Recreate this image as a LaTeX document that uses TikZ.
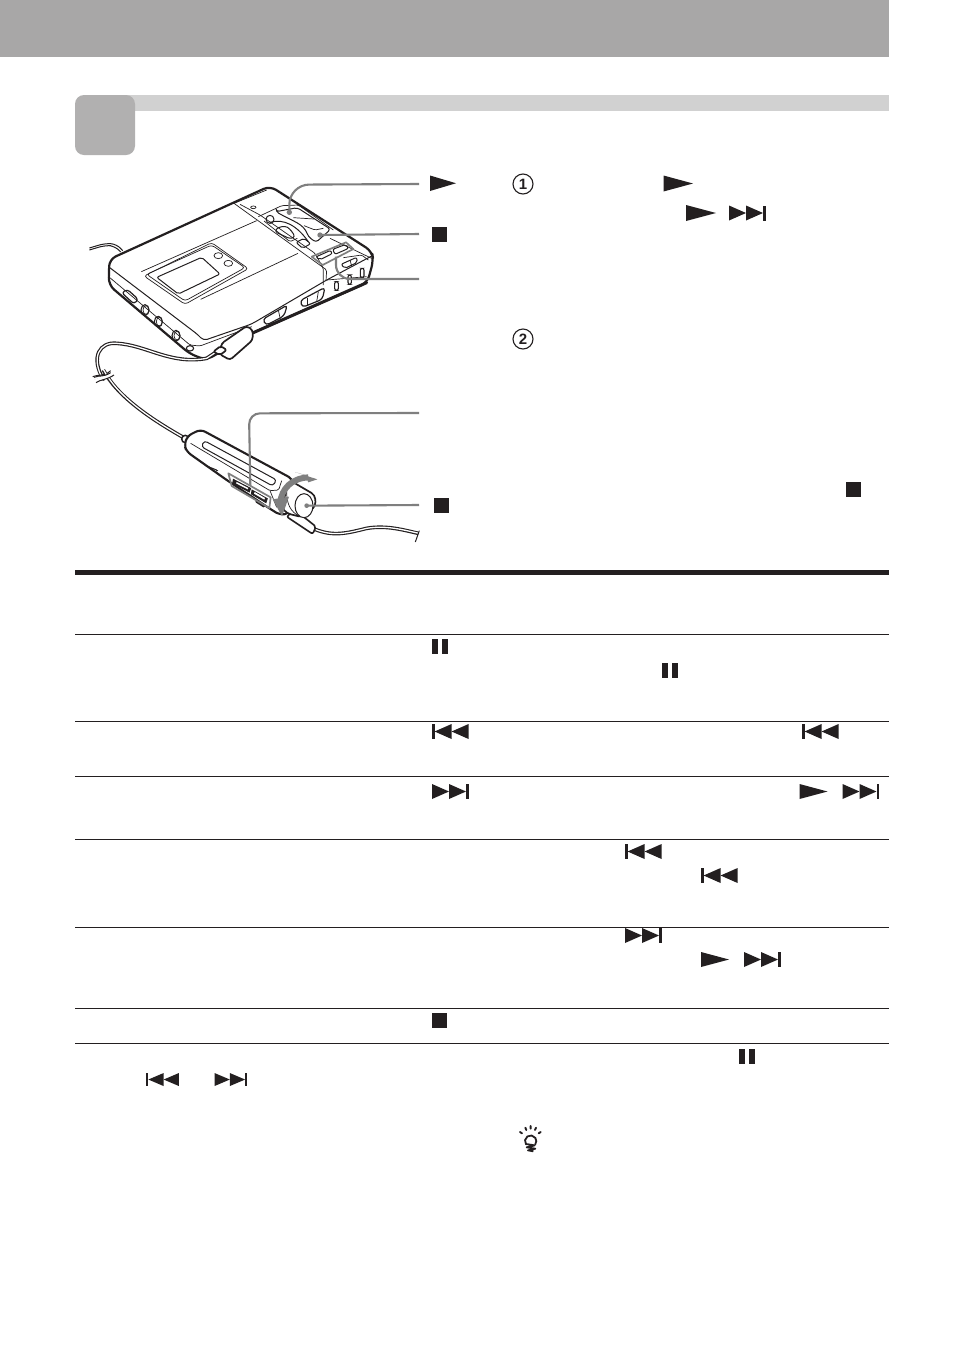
\documentclass[tikz,border=0pt]{standalone}
\usepackage{fontspec}
\setmainfont{Liberation Sans}
\definecolor{ink}{HTML}{231F20}
\definecolor{bandgray}{HTML}{A8A7A7}
\definecolor{stripgray}{HTML}{D1D1D1}
\definecolor{squaregray}{HTML}{B1B0B0}
\definecolor{leadergray}{HTML}{7F7F7F}
\newcommand\iplay[4]{\fill[ink] (#1,#2) -- ++(#3,#4/2) -- ++(-#3,#4/2) -- cycle;}
\newcommand\inext[2]{\fill[ink] (#1,#2) -- ++(17,7.5) -- ++(-17,7.5) -- cycle;
  \fill[ink] (#1+17,#2) -- ++(17,7.5) -- ++(-17,7.5) -- cycle;
  \fill[ink] (#1+34,#2) rectangle ++(2.6,15);}
\newcommand\iprev[2]{\fill[ink] (#1,#2) rectangle ++(2.6,15);
  \fill[ink] (#1+19.6,#2) -- ++(-17,7.5) -- ++(17,7.5) -- cycle;
  \fill[ink] (#1+36.6,#2) -- ++(-17,7.5) -- ++(17,7.5) -- cycle;}
\newcommand\ipause[2]{\fill[ink] (#1,#2) rectangle ++(6,15); \fill[ink] (#1+10,#2) rectangle ++(6,15);}
\newcommand\istop[2]{\fill[ink] (#1,#2) rectangle ++(14.5,14.5);}
\tikzset{
  rowline/.style={draw=ink,line width=1pt},
  leader/.style={draw=leadergray,line width=2.1pt},
  leaderbox/.style={draw=leadergray,line width=1.7pt,line join=round},
  outline/.style={draw=ink,line width=1.5pt,line join=round,rounded corners=3pt},
  thin part/.style={draw=ink,line width=.7pt,line join=round,rounded corners=1.5pt},
  mid part/.style={draw=ink,line width=1pt,line join=round,rounded corners=2pt},
  part/.style={draw=ink,line width=1pt,fill=white,line join=round,rounded corners=3pt},
  numcircle/.style={circle,draw=ink,line width=1.1pt,minimum size=20pt,inner sep=0pt,font=\bfseries\fontsize{15}{15}\selectfont,text=ink},
}
\begin{document}
\begin{tikzpicture}[x=1pt,y=-1pt]
\useasboundingbox (0,0) rectangle (954,1358);
\fill[white] (0,0) rectangle (954,1358);
% header bands
\fill[bandgray] (0,0) rectangle (889,57);
\fill[stripgray] (120,95) rectangle (889,110.5);
\fill[squaregray,rounded corners=9pt] (75,95) rectangle (135,155);
% table rules
\coordinate (ruleL) at (75,572.5); \coordinate (ruleR) at (889,572.5);
\draw[draw=ink,line width=4.5pt] (ruleL) -- (ruleR);
\foreach \yy in {634.5,721.5,776.5,839.5,927.5,1008.5,1043.5}
  \draw[rowline] (75,\yy) -- (889,\yy);

% player (zoom-1 coordinates)
\begin{scope}[shift={(70,170)},x=0.33333pt,y=-0.33333pt]
  % headphone lead at back
  \draw[draw=ink,line width=1pt,rounded corners=6pt] (58,240) -- (105,226) -- (135,228) -- (152,246);
  \draw[draw=ink,line width=1pt,rounded corners=6pt] (58,234) -- (105,220) -- (140,222) -- (158,242);
  % body
  \draw[outline,line width=2.2pt,fill=white,rounded corners=7pt] (118,268) -- (600,48) -- (906,244) -- (910,272) -- (892,338) -- (545,490) -- (410,570) -- (360,552) -- (116,345) -- cycle;
  \draw[draw=ink,line width=3pt,line cap=round] (550,488) -- (890,338);
  % lower edge of top surface
  \draw[mid part,rounded corners=4pt] (118,292) -- (385,495) -- (400,512) -- (545,462) -- (770,330) -- (905,258);
  \draw[thin part] (116,320) -- (360,525) -- (390,528) -- (545,470);
  \draw[thin part] (770,330) -- (890,320);
  % lid seams
  \draw[thin part] (492,100) -- (590,60);
  \draw[thin part] (492,100) -- (770,300) -- (768,332);
  \draw[thin part] (560,152) -- (214,305);
  \draw[thin part] (684,250) -- (392,388);
  % display
  \draw[thin part,rounded corners=3pt] (230,313) -- (425,225) -- (525,293) -- (345,393) -- cycle;
  \draw[thin part,rounded corners=3pt] (222,318) -- (425,218) -- (535,296) -- (345,403) -- cycle;
  \draw[mid part] (260,322) -- (395,262) -- (450,312) -- (325,372) -- cycle;
  \draw[thin part] (445,257) ellipse [x radius=13,y radius=9];
  \draw[thin part] (475,280) ellipse [x radius=13,y radius=9];
  % right-hand edge
  \draw[thin part] (780,205) -- (905,265);
  % side sliders
  \draw[mid part,line width=1.2pt,rounded corners=3.5pt] (578,448) -- (652,405) -- (642,438) -- (588,466) -- cycle;
  \draw[thin part] (625,420) -- (632,452);
  \draw[mid part,line width=1.2pt,rounded corners=3.5pt] (690,392) -- (765,352) -- (757,388) -- (697,412) -- cycle;
  \draw[thin part] (712,385) -- (712,405); \draw[thin part] (745,365) -- (740,395);
  % left side controls
  \draw[mid part,line width=1.2pt,rounded corners=3pt] (155,368) -- (172,358) -- (205,388) -- (192,402) -- cycle;
  \foreach \cx/\cy in {225/420,265/455,318/497}{
    \draw[thin part,line width=1.1pt] (\cx,\cy) ellipse [x radius=12,y radius=16];
    \draw[thin part] (\cx+3,\cy) ellipse [x radius=9,y radius=13];}
  \draw[thin part,line width=1.1pt] (360,535) ellipse [x radius=11,y radius=8];
  % lead (double line)
  \draw[draw=ink,line width=3.6pt,line cap=round] (100,628) .. controls (60,560) and (90,515) .. (140,520) .. controls (230,525) and (300,585) .. (410,565) -- (455,535);
  \draw[draw=white,line width=1.3pt] (100,630) .. controls (60,560) and (90,515) .. (140,520) .. controls (230,525) and (300,585) .. (410,565) -- (455,535);
  % connector
  \draw[part,line width=1.7pt] (455,520) -- (530,468) -- (548,480) -- (548,510) -- (480,570) -- (448,552) -- cycle;
  \draw[part,line width=1.7pt,rounded corners=2pt] (430,545) -- (452,528) -- (470,540) -- (450,555) -- cycle;
  % break in lead
  \draw[draw=white,line width=3pt] (70,630) -- (130,612);
  \draw[draw=ink,line width=1pt] (68,620) .. controls (85,612) and (100,622) .. (122,602);
  \draw[draw=ink,line width=1pt] (72,632) .. controls (88,622) and (105,632) .. (128,612);
\end{scope}

% player controls (detail coordinates)
\begin{scope}[shift={(240,185)},x=0.33333pt,y=-0.33333pt]
  \draw[thin part] (0,58) -- (60,90) -- (225,205) -- (250,250) -- (250,300);
  \fill[white,draw=ink,line width=.7pt] (40,67) ellipse [x radius=8,y radius=4];
  \draw[mid part] (90,103) circle [radius=12];
  % control panel
  \draw[thin part] (55,95) -- (125,62) -- (175,60) -- (280,135);
  \draw[mid part,rounded corners=3pt] (108,80) -- (172,68) -- (272,133) -- (228,172) -- (205,155) .. controls (190,115) and (160,110) .. cycle;
  \draw[thin part] (160,98) -- (222,102);
  \draw[thin part] (192,122) -- (225,135) -- (250,130);
  \draw[mid part] (90,112) .. controls (130,100) and (170,120) .. (205,170);
  \draw[mid part,rounded corners=3pt] (104,140) .. controls (115,125) and (135,122) .. (150,132) -- (166,155) -- (152,162) -- cycle;
  \draw[thin part] (72,108) -- (150,170) -- (172,160);
  \draw[mid part] (168,172) -- (192,160) -- (212,176) -- (188,190) -- cycle;
  % play and forward buttons
  \draw[mid part] (227,216) -- (272,196) -- (277,206) -- (240,224) -- cycle;
  \draw[mid part] (278,193) -- (318,178) -- (326,190) -- (285,208) -- cycle;
  \draw[leaderbox] (215,215) -- (318,172) -- (340,192) -- (248,240) -- cycle;
  % side switch
  \draw[mid part] (303,238) -- (350,217) -- (352,232) -- (315,250) -- cycle;
  \draw[thin part] (330,225) -- (335,243);
  \draw[thin part] (310,218) -- (365,210) -- (385,225);
  % slots
  \draw[draw=ink,line width=1.1pt,rounded corners=2pt] (284,290) rectangle (295,316);
  \draw[draw=ink,line width=1.1pt,rounded corners=2pt] (324,270) rectangle (334,298);
  \draw[draw=ink,line width=1.1pt,rounded corners=2pt] (361,250) rectangle (372,278);
  % leader end points
  \coordinate (targetPlay) at (148,82);
  \coordinate (targetStop) at (240,150);
  \coordinate (targetBox) at (288,215);
  \coordinate (elbowPlay) at (148,-1);
  \coordinate (elbowBox) at (288,282);
  \fill[leadergray] (targetPlay) circle [radius=8];
  \fill[leadergray] (targetStop) circle [radius=8];
\end{scope}

% remote lead (zoom-2 coordinates)
\begin{scope}[shift={(70,370)},x=0.33333pt,y=-0.33333pt]
  \draw[draw=ink,line width=3.6pt] (100,0) .. controls (140,75) and (230,140) .. (345,205);
  \draw[draw=white,line width=1.3pt] (100,-2) .. controls (140,75) and (230,140) .. (345,205);
  \draw[draw=white,line width=3pt] (70,35) -- (130,12);
  \draw[draw=ink,line width=1pt] (72,22) .. controls (90,15) and (100,22) .. (122,8);
  \draw[draw=ink,line width=1pt] (78,38) .. controls (92,28) and (110,30) .. (132,15);
  \draw[draw=ink,line width=3.6pt] (700,445) -- (735,478) .. controls (790,500) and (830,490) .. (890,475) .. controls (950,465) and (1000,480) .. (1045,490);
  \draw[draw=white,line width=1.3pt] (700,445) -- (735,478) .. controls (790,500) and (830,490) .. (890,475) .. controls (950,465) and (1000,480) .. (1047,490);
  \draw[draw=ink,line width=1pt] (1048,482) -- (1036,516);
  \coordinate (elbowBoxR) at (537,130);
\end{scope}

% remote body (detail coordinates)
\begin{scope}[shift={(180,420)},x=0.33333pt,y=-0.33333pt]
  \fill[white,draw=ink,line width=1.5pt] (16,57) circle [radius=11];
  % plug
  \draw[part,line width=1.6pt,rounded corners=2pt] (320,290) -- (345,270) -- (408,320) -- (398,342) -- cycle;
  % body
  \draw[part,line width=2.1pt,rounded corners=5pt] (13,75) -- (22,48) -- (62,28) -- (340,178) -- (330,280) -- (300,285) -- (268,265) -- (140,180) -- (20,95) -- cycle;
  \draw[mid part,rounded corners=3pt] (73,62) -- (290,180) -- (278,198) -- (64,80) -- cycle;
  \draw[thin part] (32,70) -- (270,212) -- (296,210) -- (305,182);
  \draw[thin part] (270,212) -- (290,262);
  \draw[mid part] (75,136) -- (110,150);
  \fill[ink] (108,150) -- (115,150) -- (110,155) -- cycle;
  % buttons under the leader box
  \draw[draw=ink,line width=.8pt,fill=ink] (160,178) -- (212,205) -- (208,216) -- (158,190) -- cycle;
  \draw[draw=ink,line width=.8pt,fill=ink] (216,210) -- (262,236) -- (258,248) -- (214,222) -- cycle;
  \fill[white] (170,186) -- (205,204) -- (203,208) -- (168,190) -- cycle;
  \fill[white] (224,216) -- (255,234) -- (253,239) -- (222,221) -- cycle;
  \fill[ink] (225,240) -- (258,258) -- (250,262) -- (228,248) -- cycle;
  \draw[leaderbox] (145,160) -- (272,232) -- (268,264) -- (155,198) -- cycle;
  % cap
  \draw[part,line width=1.7pt,rounded corners=4pt] (328,180) -- (405,225) -- (407,258) -- (368,292) -- (320,280) -- (305,262) -- cycle;
  \draw[draw=ink,line width=1pt,fill=white] (372,257) ellipse [x radius=27,y radius=36];
  \draw[draw=ink,line width=.7pt] (320,215) .. controls (320,250) and (330,275) .. (360,290);
  % rotation arrow
  \draw[draw=leadergray,line width=6pt] (385,172) .. controls (335,175) and (305,205) .. (300,250);
  \fill[leadergray] (345,156) -- (412,178) -- (385,187) -- (375,165) -- cycle;
  \fill[leadergray] (278,238) -- (327,230) -- (306,289) -- cycle;
  \coordinate (targetBoxR) at (211,197);
  \coordinate (targetStopR) at (380,257);
  \fill[leadergray] (targetStopR) circle [radius=7];
\end{scope}

% leaders from device to the symbols
\coordinate (legPlay) at (419,184);
\coordinate (legStop) at (419,234);
\coordinate (legBox) at (419,279);
\coordinate (legBoxR) at (419,413);
\coordinate (legStopR) at (419,505);
\draw[leader,rounded corners=20pt] (legPlay) -- (elbowPlay) -- (targetPlay);
\draw[leader] (legStop) -- (targetStop);
\draw[leader,rounded corners=14pt] (legBox) -- (elbowBox) -- (targetBox);
\draw[leader,rounded corners=11pt] (legBoxR) -- (elbowBoxR) -- (targetBoxR);
\draw[leader] (legStopR) -- (targetStopR);

% legend symbols
\iplay{430}{175.5}{26}{15.5}
\istop{432}{227}
\istop{434}{498}
\node[numcircle] (stepone) at (523,184) {1};
\node[numcircle] (steptwo) at (523,339) {2};
\iplay{663.5}{175.5}{29.5}{16}
\iplay{686}{205}{30}{16}
\inext{729}{205.5}
\istop{846}{482}

% table symbols
\ipause{432}{639}
\ipause{662}{663}
\iprev{432}{724}
\iprev{802}{724}
\inext{432}{784}
\iplay{799.5}{784}{28}{15}
\inext{842.5}{784}
\iprev{625}{844}
\iprev{701}{868}
\inext{625}{928}
\iplay{701}{952}{28}{15}
\inext{744}{952}
\istop{432}{1013}
\ipause{738.5}{1049}
\begin{scope}[shift={(146,1073)},xscale=.9,yscale=.87]\iprev{0}{0}\end{scope}
\begin{scope}[shift={(214.5,1073)},xscale=.9,yscale=.87]\inext{0}{0}\end{scope}

% hint bulb
\begin{scope}[shift={(500,1040)},x=0.33333pt,y=-0.33333pt]
  \draw[draw=ink,line width=1.8pt,line cap=round] (78,313) arc [start angle=215,end angle=-35,x radius=17,y radius=-17];
  \draw[draw=ink,line width=1.8pt,line join=round] (78,312) -- (104,316) -- (80,322) -- (106,326) -- (84,331) -- (100,334);
  \draw[draw=ink,line width=1.9pt,line cap=round]
    (60,276) -- (66,280) (76,263) -- (79,270) (92,258) -- (92,266) (108,263) -- (105,270) (122,276) -- (116,280);
\end{scope}
\end{tikzpicture}
\end{document}
